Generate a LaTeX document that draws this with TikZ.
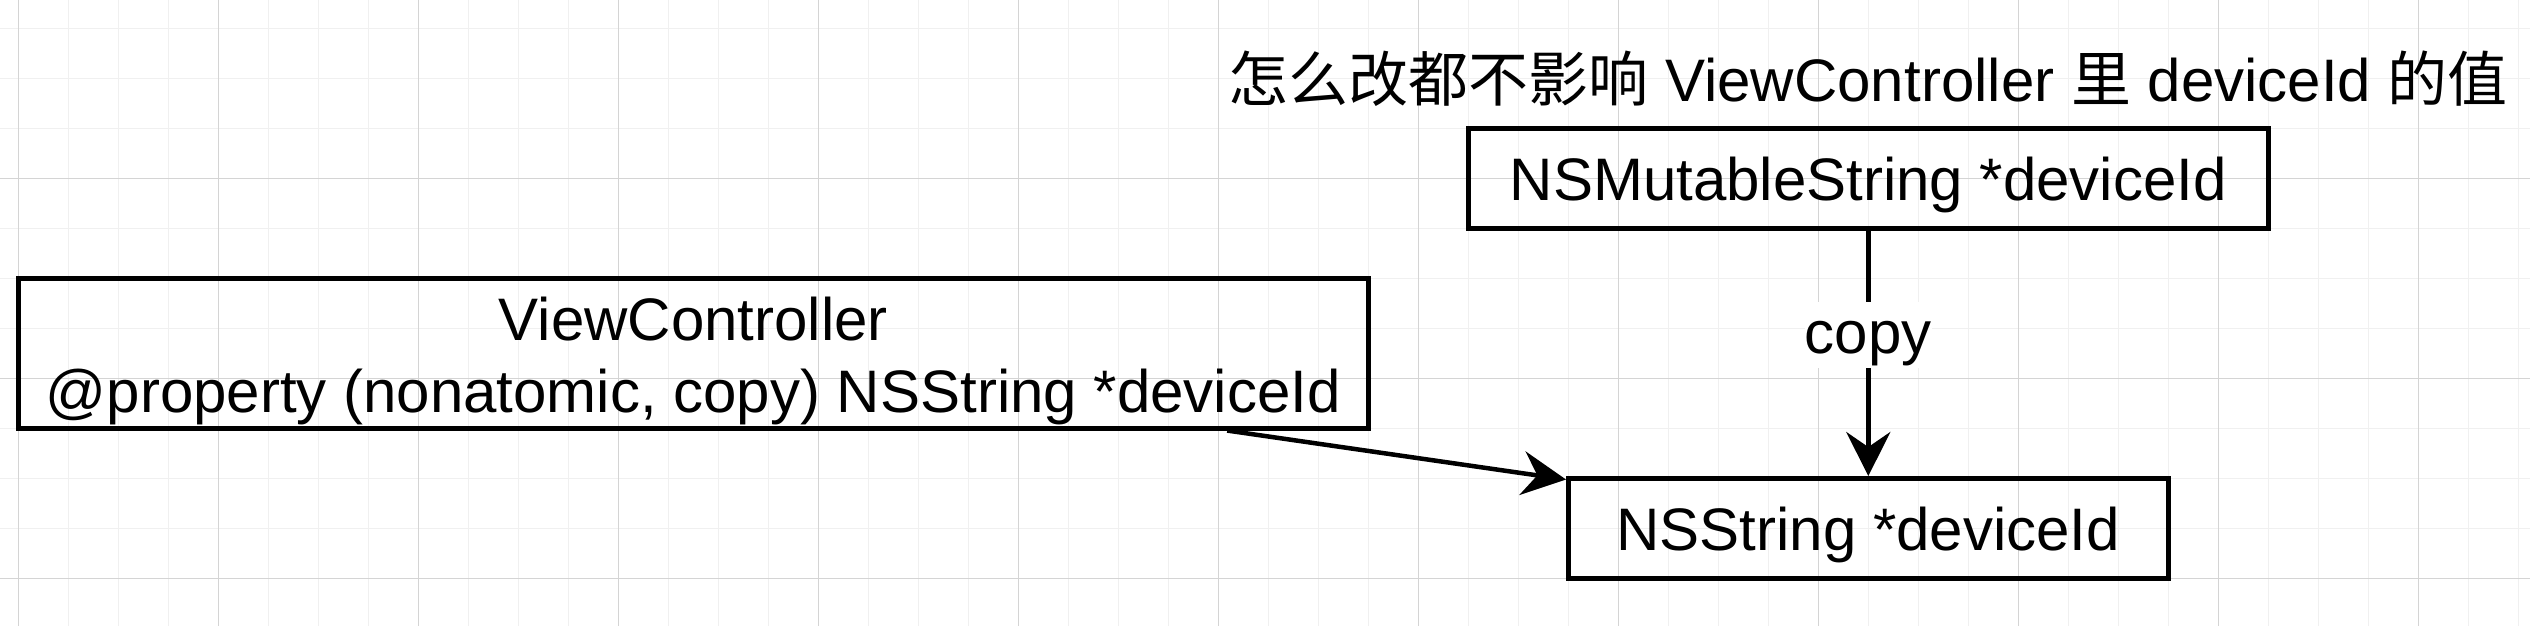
\documentclass[tikz,border=0pt]{standalone}
\usepackage{fontspec}
\setmainfont{Liberation Sans}
\newfontfamily\cjk{Noto Sans CJK SC}
\usetikzlibrary{arrows.meta}

\begin{document}
\begin{tikzpicture}[x=1pt, y=-1pt,
  gridminor/.style={line width=0.2pt, color=black!6},
  gridmajor/.style={line width=0.2pt, color=black!17},
  box/.style={draw, line width=0.9pt, inner sep=0pt, minimum height=20pt,
    text height=9pt, text depth=0pt, font=\fontsize{12}{14.4}\selectfont},
  arr/.style={line width=0.9pt, -{Stealth[length=8.8pt, width=8.8pt, inset=3pt]}},
  lbl/.style={fill=white, inner sep=0pt, anchor=base, text height=10.3pt, text depth=3pt,
    font=\fontsize{12}{14.4}\selectfont}]
\useasboundingbox (0,0) rectangle (506,125.2);
\fill[white] (0,0) rectangle (506,125.2);

% background grid
\foreach \i in {0,...,50}
  \draw[gridminor] ({3.66+10*\i},0) -- ({3.66+10*\i},125.2);
\foreach \j in {0,...,11}
  \draw[gridminor] (0,{5.66+10*\j}) -- (506,{5.66+10*\j});
\foreach \i in {0,...,12}
  \draw[gridmajor] ({3.66+40*\i},0) -- ({3.66+40*\i},125.2);
\foreach \j in {0,...,2}
  \draw[gridmajor] (0,{35.66+40*\j}) -- (506,{35.66+40*\j});

\node[font=\fontsize{12}{14.4}\selectfont, anchor=base] (title) at (373.66,20.34)
  {{\cjk 怎么改都不影响} ViewController {\cjk 里} deviceId {\cjk 的值}};

\node[box, minimum width=160pt] (mutstr) at (373.66,35.66) {NSMutableString *deviceId};
\node[box, minimum width=120pt] (nsstr) at (373.66,105.66) {NSString *deviceId};
\node[box, minimum width=270pt, minimum height=30pt, align=center, text height=23.5pt]
  (vc) at (138.66,70.66) {ViewController\\@property (nonatomic, copy) NSString *deviceId};

\draw[arr] (mutstr) -- node[lbl] {copy} (nsstr);
\draw[arr] (vc) -- ([yshift=-0.7pt]nsstr.north west);
\end{tikzpicture}
\end{document}
